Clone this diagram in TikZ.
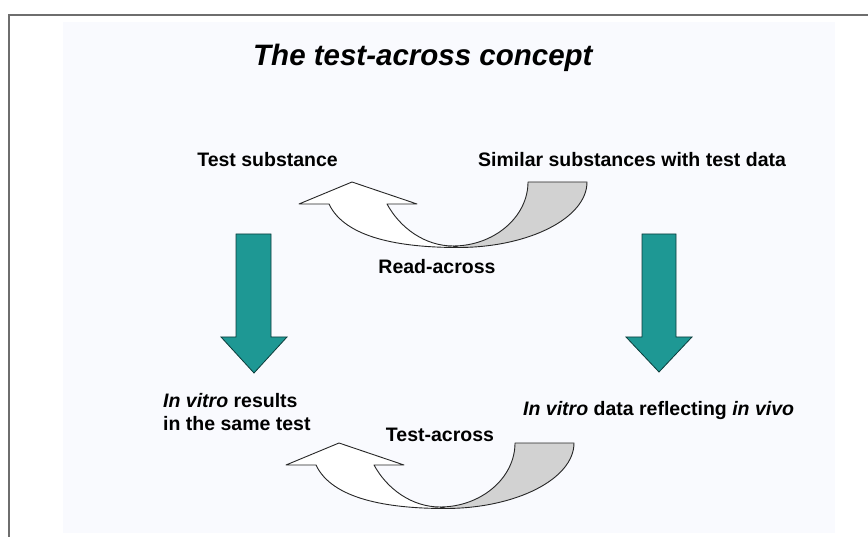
\documentclass[tikz,border=0pt]{standalone}
\usepackage{fontspec}
\setmainfont{Liberation Sans}
\definecolor{tealA}{RGB}{30,152,148}
\definecolor{bgA}{RGB}{249,250,254}
\definecolor{frameA}{RGB}{110,110,110}
\definecolor{greyA}{RGB}{210,210,210}
\tikzset{
  lbl/.style={font=\bfseries\fontsize{19.5}{23}\selectfont, inner sep=0pt, text=black},
  ttl/.style={font=\bfseries\itshape\fontsize{29.5}{34}\selectfont, inner sep=0pt, text=black},
  ribbon/.style={draw=black!85, line width=0.9pt, line join=round},
  downarrow/.style={fill=tealA, draw=black!60!tealA, line width=0.8pt, line join=miter},
  curvarrow/.pic={
    \path[ribbon, fill=white] (-23,22) .. controls (-7,56) and (48,65.5) .. (106,65.5)
      -- (101,64) .. controls (73,64) and (48,46) .. (35,22)
      -- (65,22) -- (0,0) -- (-53,22) -- cycle;
    \path[ribbon, fill=greyA] (101,64) .. controls (142,64) and (176,35) .. (176,0)
      -- (235,0) .. controls (235,36) and (177,65.5) .. (106,65.5) -- cycle;
  }
}
\begin{document}
\begin{tikzpicture}[x=1pt, y=-1pt]
  \useasboundingbox (0,0) rectangle (868,537);
  \fill[white] (0,0) rectangle (868,537);
  \fill[bgA] (63,22) rectangle (835,533);
  \draw[frameA, line width=2pt] (9,537) -- (9,15) -- (868,15);

  % title
  \node[ttl, anchor=base west] (title) at (253,66) {The test-across concept};

  % texts
  \node[lbl, anchor=base east] (testsub) at (338,167) {Test substance};
  \node[lbl, anchor=base west] (similar) at (478,167) {Similar substances with test data};
  \node[lbl, anchor=base] (readacross) at (437,274) {Read-across};
  \node[lbl, anchor=base] (testacross) at (440,441) {Test-across};
  \node[lbl, anchor=base west] (invitro1) at (163,407) {{\itshape In vitro} results};
  \node[lbl, anchor=base west] (invitro2) at (163,430) {in the same test};
  \node[lbl, anchor=base west] (invitrodata) at (523,416) {{\itshape In vitro} data reflecting {\itshape in vivo}};

  % curved arrows
  \coordinate (rtip) at (352,182);
  \coordinate (ttip) at (339,443);
  \pic at (rtip) {curvarrow};
  \pic at (ttip) {curvarrow};

  % teal down arrows
  \path[downarrow] (236,234) -- (271,234) -- (271,337) -- (287,337) -- (254,373)
    -- (221,337) -- (236,337) -- cycle;
  \path[downarrow] (642,234) -- (676,234) -- (676,337) -- (692,337) -- (659,372)
    -- (626,337) -- (642,337) -- cycle;
\end{tikzpicture}
\end{document}
